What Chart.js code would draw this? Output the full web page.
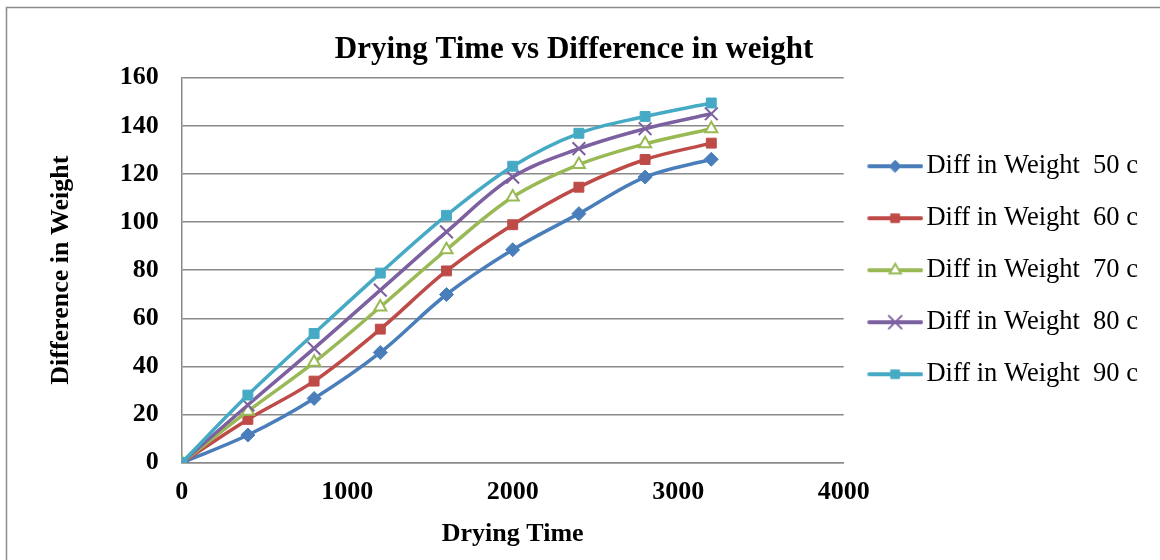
<!DOCTYPE html>
<html>
<head>
<meta charset="utf-8">
<title>Drying Time vs Difference in weight</title>
<script src="https://cdn.jsdelivr.net/npm/chart.js@4.4.1/dist/chart.umd.min.js"></script>
<style>
  html, body { margin: 0; padding: 0; background: #fff; }
  #wrap { width: 1160px; height: 560px; }
</style>
</head>
<body>
<div id="wrap"><canvas id="dryingChart" width="1160" height="560"></canvas></div>
<script>
// Tiempos de secado (eje x)
const dryingTime = [0, 400, 800, 1200, 1600, 2000, 2400, 2800, 3200];

// Diferencia de peso para cada temperatura
const diff50 = [0, 11.5, 26.7, 45.8, 69.9, 88.5, 103.5, 118.7, 126.1];
const diff60 = [0, 18.0, 33.9, 55.5, 79.7, 98.9, 114.5, 126.0, 132.8];
const diff70 = [0, 21.4, 41.7, 64.7, 88.5, 110.4, 123.9, 132.5, 138.8];
const diff80 = [0, 24.0, 47.5, 71.7, 95.9, 118.7, 130.5, 138.8, 145.0];
const diff90 = [0, 28.1, 53.7, 78.8, 102.8, 123.2, 136.9, 143.9, 149.5];

const seriesLabels = [
  'Diff in Weight  50 c',
  'Diff in Weight  60 c',
  'Diff in Weight  70 c',
  'Diff in Weight  80 c',
  'Diff in Weight  90 c',
];

// Ticks de los ejes
const xTicks = [0, 1000, 2000, 3000, 4000];
const yTicks = [0, 20, 40, 60, 80, 100, 120, 140, 160];

const serif = "'Liberation Serif', 'Times New Roman', serif";
const gridColor = '#8a8a8a';

// estilo de cada serie (color, marcador)
const styles = [
  {color: '#4A7EBB', fill: '#4A7EBB', point: 'rectRot', radius: 7, legendRadius: 6, bw: 1},
  {color: '#BE4B48', fill: '#BE4B48', point: 'rect', radius: 7, legendRadius: 6, bw: 1},
  {color: '#98B954', fill: '#ffffff', point: 'triangle', radius: 7, legendRadius: 6.5, bw: 2},
  {color: '#7D60A0', fill: '#7D60A0', point: 'crossRot', radius: 9, legendRadius: 9, bw: 2},
  {color: '#46AAC5', fill: '#46AAC5', point: 'rect', radius: 7, legendRadius: 6, bw: 1},
];

function toPoints(ys) {
  return ys.map((y, i) => ({x: dryingTime[i], y: y}));
}

// icono de leyenda: linea + marcador
function legendIcon(st) {
  const c = document.createElement('canvas');
  c.width = 64;
  c.height = 22;
  const ctx = c.getContext('2d');
  ctx.strokeStyle = st.color;
  ctx.lineWidth = 4;
  ctx.lineCap = 'round';
  ctx.beginPath();
  ctx.moveTo(10, 11);
  ctx.lineTo(62, 11);
  ctx.stroke();
  ctx.fillStyle = st.fill;
  ctx.strokeStyle = st.color;
  ctx.lineWidth = st.bw;
  if (Chart.helpers && Chart.helpers.drawPoint) {
    Chart.helpers.drawPoint(ctx, {pointStyle: st.point, radius: st.legendRadius, borderWidth: st.bw, rotation: 0}, 36, 11);
  }
  return c;
}

const allSeries = [diff50, diff60, diff70, diff80, diff90];

const datasets = allSeries.map((ys, i) => ({
  label: seriesLabels[i],
  data: toPoints(ys),
  borderColor: styles[i].color,
  backgroundColor: styles[i].fill,
  pointStyle: styles[i].point,
  pointRadius: styles[i].radius,
  pointBorderWidth: styles[i].bw,
  pointBorderColor: styles[i].color,
  pointBackgroundColor: styles[i].fill,
  borderWidth: 3.5,
  tension: 0.35,
  order: allSeries.length - i,
}));

// marco exterior del grafico
const framePlugin = {
  id: 'frame',
  beforeDraw(chart) {
    const ctx = chart.ctx;
    ctx.save();
    ctx.fillStyle = '#ffffff';
    ctx.fillRect(0, 0, chart.width, chart.height);
    ctx.strokeStyle = '#8c8c8c';
    ctx.lineWidth = 1.5;
    ctx.beginPath();
    ctx.moveTo(6.5, chart.height);
    ctx.lineTo(6.5, 7.5);
    ctx.lineTo(chart.width, 7.5);
    ctx.stroke();
    ctx.restore();
  },
};

const config = {
  type: 'line',
  data: {datasets: datasets},
  options: {
    responsive: false,
    animation: false,
    devicePixelRatio: 1,
    layout: {padding: {left: 0, right: 12, top: 0, bottom: 0}},
    plugins: {
      title: {
        display: true,
        text: 'Drying Time vs Difference in weight',
        color: '#000',
        font: {family: serif, size: 31, weight: 'bold'},
        padding: {top: 31, bottom: 9.5},
      },
      legend: {
        display: true,
        position: 'right',
        fullSize: false,
        maxWidth: 340,
        onClick: null,
        labels: {
          usePointStyle: true,
          pointStyleWidth: 44,
          padding: 25.5,
          color: '#000',
          font: {family: serif, size: 26.5},
          generateLabels(chart) {
            return chart.data.datasets.map((ds, i) => ({
              text: ds.label,
              pointStyle: legendIcon(styles[i]),
              fillStyle: styles[i].fill,
              strokeStyle: styles[i].color,
              lineWidth: 0,
              hidden: false,
              datasetIndex: i,
            }));
          },
        },
      },
      tooltip: {enabled: false},
    },
    scales: {
      x: {
        type: 'linear',
        min: 0,
        max: 4000,
        afterBuildTicks(scale) {
          scale.ticks = xTicks.map((v) => ({value: v}));
        },
        afterFit(scale) {
          scale.height = 97.3;
        },
        grid: {display: false, drawTicks: false},
        border: {display: true, color: gridColor, width: 1.5},
        ticks: {
          color: '#000',
          padding: 14,
          font: {family: serif, size: 26, weight: 'bold'},
          callback: (v) => String(v),
        },
        title: {
          display: true,
          text: 'Drying Time',
          color: '#000',
          font: {family: serif, size: 26, weight: 'bold'},
          padding: {top: 0, bottom: 10},
        },
      },
      y: {
        type: 'linear',
        min: 0,
        max: 160,
        afterBuildTicks(scale) {
          scale.ticks = yTicks.map((v) => ({value: v}));
        },
        afterFit(scale) {
          scale.width = 181.7;
        },
        grid: {display: true, drawTicks: false, color: gridColor, lineWidth: 1.5},
        border: {display: true, color: gridColor, width: 1.5},
        ticks: {
          color: '#000',
          padding: 23,
          font: {family: serif, size: 26, weight: 'bold'},
          callback: (v) => String(v),
        },
        title: {
          display: true,
          text: 'Difference in Weight',
          color: '#000',
          font: {family: serif, size: 26, weight: 'bold'},
          padding: {top: 46, bottom: 0},
        },
      },
    },
  },
  plugins: [framePlugin],
};

new Chart(
    document.getElementById('dryingChart'),
    config,
);
</script>
</body>
</html>
